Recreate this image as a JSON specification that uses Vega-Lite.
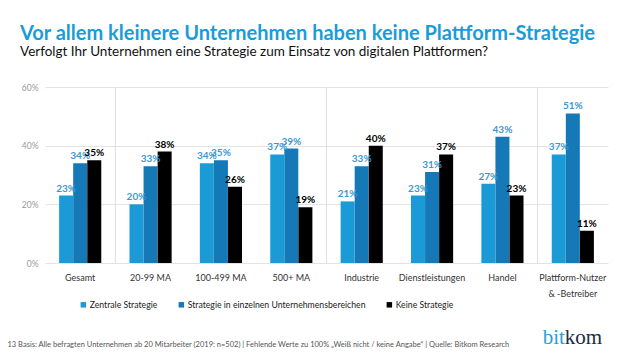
{
  "$schema": "https://vega.github.io/schema/vega-lite/v6.json",
  "width": 563,
  "height": 176,
  "autosize": {"type": "none"},
  "padding": {"left": 45, "top": 87, "right": 22, "bottom": 90},
  "background": "white",
  "config": {"font": "Lato", "view": {"stroke": null}},
  "title": {
    "text": "Vor allem kleinere Unternehmen haben keine Plattform-Strategie",
    "subtitle": "Verfolgt Ihr Unternehmen eine Strategie zum Einsatz von digitalen Plattformen?",
    "anchor": "start",
    "frame": "group",
    "dx": -25,
    "offset": 25,
    "font": "Lato",
    "fontSize": 20,
    "fontWeight": "bold",
    "color": "#1a9cd7",
    "subtitleFont": "Lato",
    "subtitleFontSize": 13.5,
    "subtitleColor": "#111111",
    "subtitlePadding": 1
  },
  "datasets": {
    "bars": [
      {"gruppe": "Gesamt", "serie": "Zentrale Strategie", "wert": 0.23},
      {"gruppe": "Gesamt", "serie": "Strategie in einzelnen Unternehmensbereichen", "wert": 0.34},
      {"gruppe": "Gesamt", "serie": "Keine Strategie", "wert": 0.35},
      {"gruppe": "20-99 MA", "serie": "Zentrale Strategie", "wert": 0.20},
      {"gruppe": "20-99 MA", "serie": "Strategie in einzelnen Unternehmensbereichen", "wert": 0.33},
      {"gruppe": "20-99 MA", "serie": "Keine Strategie", "wert": 0.38},
      {"gruppe": "100-499 MA", "serie": "Zentrale Strategie", "wert": 0.34},
      {"gruppe": "100-499 MA", "serie": "Strategie in einzelnen Unternehmensbereichen", "wert": 0.35},
      {"gruppe": "100-499 MA", "serie": "Keine Strategie", "wert": 0.26},
      {"gruppe": "500+ MA", "serie": "Zentrale Strategie", "wert": 0.37},
      {"gruppe": "500+ MA", "serie": "Strategie in einzelnen Unternehmensbereichen", "wert": 0.39},
      {"gruppe": "500+ MA", "serie": "Keine Strategie", "wert": 0.19},
      {"gruppe": "Industrie", "serie": "Zentrale Strategie", "wert": 0.21},
      {"gruppe": "Industrie", "serie": "Strategie in einzelnen Unternehmensbereichen", "wert": 0.33},
      {"gruppe": "Industrie", "serie": "Keine Strategie", "wert": 0.40},
      {"gruppe": "Dienstleistungen", "serie": "Zentrale Strategie", "wert": 0.23},
      {"gruppe": "Dienstleistungen", "serie": "Strategie in einzelnen Unternehmensbereichen", "wert": 0.31},
      {"gruppe": "Dienstleistungen", "serie": "Keine Strategie", "wert": 0.37},
      {"gruppe": "Handel", "serie": "Zentrale Strategie", "wert": 0.27},
      {"gruppe": "Handel", "serie": "Strategie in einzelnen Unternehmensbereichen", "wert": 0.43},
      {"gruppe": "Handel", "serie": "Keine Strategie", "wert": 0.23},
      {"gruppe": "Plattform-Nutzer & -Betreiber", "serie": "Zentrale Strategie", "wert": 0.37},
      {"gruppe": "Plattform-Nutzer & -Betreiber", "serie": "Strategie in einzelnen Unternehmensbereichen", "wert": 0.51},
      {"gruppe": "Plattform-Nutzer & -Betreiber", "serie": "Keine Strategie", "wert": 0.11}
    ],
    "seps": [
      {"gruppe": "20-99 MA"},
      {"gruppe": "Industrie"},
      {"gruppe": "Plattform-Nutzer & -Betreiber"}
    ]
  },
  "layer": [
    {
      "data": {"name": "bars"},
      "mark": {"type": "bar", "width": 14},
      "encoding": {
        "x": {
          "field": "gruppe",
          "type": "nominal",
          "scale": {
            "domain": ["Gesamt", "20-99 MA", "100-499 MA", "500+ MA", "Industrie", "Dienstleistungen", "Handel", "Plattform-Nutzer & -Betreiber"],
            "paddingInner": 0,
            "paddingOuter": 0
          },
          "axis": {
            "bandPosition": 0.5,
            "labelAngle": 0,
            "labelColor": "#333333",
            "labelFontSize": 9,
            "labelPadding": 10,
            "labelLineHeight": 16,
            "labelLimit": 0,
            "ticks": false,
            "domain": false,
            "labelExpr": "datum.value == 'Plattform-Nutzer & -Betreiber' ? ['Plattform-Nutzer', '& -Betreiber'] : datum.value",
            "title": "13 Basis: Alle befragten Unternehmen ab 20 Mitarbeiter (2019: n=502) | Fehlende Werte zu 100% „Weiß nicht / keine Angabe“ | Quelle: Bitkom Research",
            "titleFontSize": 7.5,
            "titleFontWeight": "normal",
            "titleColor": "#555555",
            "titleX": -38,
            "titleY": 83,
            "titleAlign": "left",
            "titleBaseline": "alphabetic"
          }
        },
        "xOffset": {
          "field": "serie",
          "type": "nominal",
          "sort": ["Zentrale Strategie", "Strategie in einzelnen Unternehmensbereichen", "Keine Strategie"],
          "scale": {"paddingInner": 0, "paddingOuter": 1.0}
        },
        "y": {
          "field": "wert",
          "type": "quantitative",
          "scale": {"domain": [0, 0.6]},
          "axis": {
            "values": [0, 0.2, 0.4, 0.6],
            "format": ".0%",
            "title": null,
            "labelColor": "#999999",
            "labelFontSize": 8.5,
            "labelPadding": 7,
            "ticks": false,
            "domain": false,
            "gridColor": "#e3e3e3"
          }
        },
        "color": {
          "field": "serie",
          "type": "nominal",
          "sort": ["Zentrale Strategie", "Strategie in einzelnen Unternehmensbereichen", "Keine Strategie"],
          "scale": {
            "domain": ["Zentrale Strategie", "Strategie in einzelnen Unternehmensbereichen", "Keine Strategie"],
            "range": ["#1a9bd7", "#1479b6", "#000000"]
          },
          "legend": {
            "orient": "none",
            "legendX": 34,
            "legendY": 213,
            "direction": "horizontal",
            "title": null,
            "symbolType": "square",
            "symbolSize": 30,
            "symbolStrokeWidth": 0,
            "labelFontSize": 8.7,
            "labelColor": "#222222",
            "labelOffset": 2,
            "columnPadding": 19,
            "labelLimit": 0,
            "padding": 0
          }
        }
      }
    },
    {
      "data": {"name": "seps"},
      "mark": {"type": "rule", "color": "#dedede", "strokeWidth": 1},
      "encoding": {
        "x": {"field": "gruppe", "type": "nominal", "bandPosition": 0}
      }
    },
    {
      "data": {"name": "bars"},
      "mark": {"type": "text", "baseline": "bottom", "dy": -2, "fontWeight": "bold", "fontSize": 10},
      "encoding": {
        "x": {"field": "gruppe", "type": "nominal"},
        "xOffset": {
          "field": "serie",
          "type": "nominal",
          "sort": ["Zentrale Strategie", "Strategie in einzelnen Unternehmensbereichen", "Keine Strategie"]
        },
        "y": {"field": "wert", "type": "quantitative"},
        "text": {"field": "wert", "type": "quantitative", "format": ".0%"},
        "color": {
          "condition": {"test": "datum.serie == 'Keine Strategie'", "value": "#000000"},
          "value": "#3a98d2"
        }
      }
    },
    {
      "data": {"values": [{"t": "bit"}]},
      "mark": {"type": "text", "align": "right", "baseline": "alphabetic", "font": "Liberation Serif", "fontSize": 21, "color": "#2a9fd8", "dx": -8},
      "encoding": {
        "x": {"datum": "Plattform-Nutzer & -Betreiber", "type": "nominal"},
        "y": {"datum": -0.276, "type": "quantitative"},
        "text": {"field": "t"}
      }
    },
    {
      "data": {"values": [{"t": "kom"}]},
      "mark": {"type": "text", "align": "left", "baseline": "alphabetic", "font": "Liberation Serif", "fontSize": 21, "color": "#1c2b45", "dx": -8},
      "encoding": {
        "x": {"datum": "Plattform-Nutzer & -Betreiber", "type": "nominal"},
        "y": {"datum": -0.276, "type": "quantitative"},
        "text": {"field": "t"}
      }
    }
  ]
}
